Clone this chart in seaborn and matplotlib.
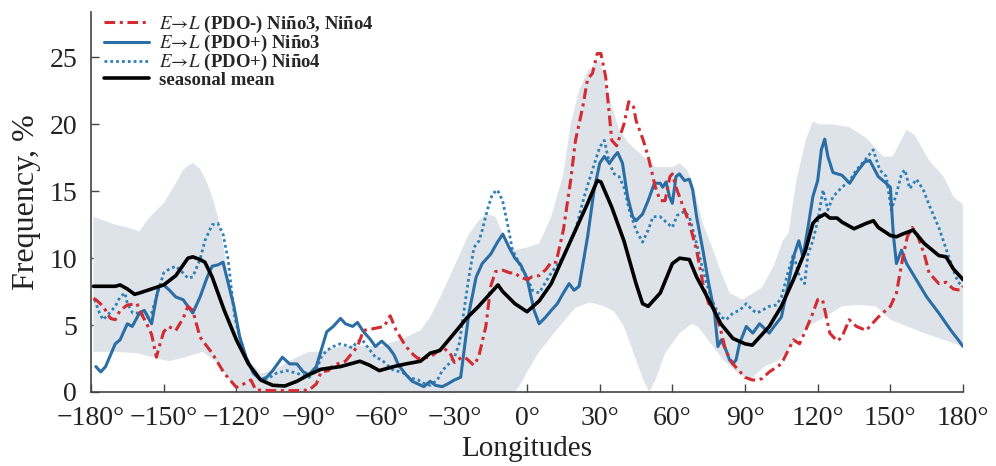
import numpy as np
import pandas as pd
import seaborn as sns
import matplotlib
matplotlib.use('Agg')
import matplotlib.pyplot as plt
from matplotlib.ticker import FixedLocator, FixedFormatter

# E->L (PDO-) Nino3, Nino4
red_lon = [-179, -178, -175, -172, -170, -168, -165, -161, -160, -157, -155, -153, -152, -150, -148, -145,
           -142, -140, -138, -135, -130, -125, -120, -117, -114, -112, -105, -95, -90, -87, -85, -82,
           -80, -75, -70, -67.5, -63, -59, -56.5, -54, -50, -47, -45, -40, -35, -32, -30, -27, -25, -22,
           -20, -17, -15, -13, -10, -7, -5, -3, 0, 2, 5, 8, 10, 12, 15, 18, 20, 23, 25, 27, 29, 30.5,
           32.5, 35, 37, 40, 42, 44, 45, 48, 50, 53, 55, 57, 59, 60, 61.5, 65, 67, 70, 72.6, 75, 77, 78,
           80, 82, 85, 88, 90, 93, 95, 97, 100, 105, 110, 112.5, 115, 118, 120, 122, 125, 128, 130, 133,
           136, 140, 145, 150, 152.5, 155, 157, 159, 161, 164, 166, 170, 173, 176, 179, 180]
red_val = [7.0, 6.9, 6.4, 5.5, 5.4, 6.1, 6.5, 6.6, 6.1, 5.1, 4.3, 2.6, 3.3, 4.5, 4.9, 4.6,
           5.5, 6.4, 6.1, 4.1, 2.9, 1.4, 0.35, 0.6, 0.9, 0.15, 0.1, 0.1, 0.15, 0.6, 1.5, 1.6,
           2.0, 2.3, 3.4, 4.6, 4.75, 4.9, 5.7, 4.6, 3.4, 2.8, 2.5, 2.6, 3.3, 3.0, 2.2, 2.6, 2.5, 2.0,
           2.6, 4.9, 7.9, 9.0, 9.1, 8.9, 8.9, 8.6, 8.4, 8.6, 8.7, 9.2, 9.7, 9.7, 12.1, 15.8, 18.8, 21.3,
           23.4, 23.8, 25.3, 25.3, 23.5, 18.8, 18.4, 20.0, 21.7, 21.3, 20.3, 18.8, 17.6, 15.3, 14.3,
           14.3, 16.1, 16.3, 15.3, 13.6, 12.6, 10.6, 8.1, 6.6, 6.4, 5.9, 4.6, 3.1, 2.1, 1.5, 1.1, 0.9,
           0.9, 1.0, 1.5, 2.1, 3.9, 3.6, 4.6, 5.9, 6.9, 6.9, 4.4, 3.8, 4.1, 5.4, 4.9, 4.6, 5.6, 6.4,
           7.4, 9.9, 11.6, 12.3, 11.8, 10.3, 8.9, 8.1, 8.2, 7.7, 7.6, 7.9]

# E->L (PDO+) Nino3
n3_lon = [-178, -176, -174, -170, -168, -165, -163, -160, -158, -155, -153, -152, -150, -147.6, -145,
          -142, -140, -138, -135, -132, -130, -127.6, -125.5, -124, -121, -118.6, -116, -113, -110,
          -107.5, -105, -103, -101, -98, -95, -92.4, -90, -87, -85, -82.7, -80, -77, -75, -72, -70,
          -67.5, -65, -62.6, -60, -57, -55, -53, -50, -47.4, -45, -42.6, -40, -37.8, -35, -32.3, -30,
          -27.4, -26, -24, -21, -18.5, -15, -12.2, -10, -7.4, -5, -2.6, 0, 2.9, 5, 7.7, 10, 12.5, 15,
          17.4, 19.4, 21.5, 25, 27.7, 30, 31.9, 34, 36, 37.4, 39.4, 41.5, 43.6, 45, 47.7, 50, 52.6, 55,
          56, 57.4, 58.8, 60, 61.5, 62.9, 65, 67, 68.4, 70, 72.6, 75, 77.4, 78.8, 80.2, 82.2, 83.6, 85,
          86.3, 87.7, 90.5, 93.2, 96, 100, 102, 105, 107.7, 110, 112.2, 113.9, 116, 118, 120, 121.5,
          122.9, 124.2, 126.3, 130, 133.2, 136, 139.4, 141.5, 145, 147.6, 150, 151.2, 152.5, 154.6,
          156.7, 160, 165, 170, 175, 178, 180]
n3_val = [1.9, 1.5, 1.9, 3.6, 3.9, 5.1, 4.9, 5.9, 6.1, 5.1, 7.1, 7.9, 8.0, 7.6, 7.1,
          6.9, 6.4, 5.9, 7.1, 8.6, 9.4, 9.5, 9.7, 8.6, 6.4, 4.1, 2.6, 1.4, 0.9,
          1.1, 1.6, 2.1, 2.6, 2.1, 2.1, 1.5, 1.3, 1.9, 3.1, 4.5, 4.9, 5.5, 5.1, 4.9, 5.2,
          4.5, 4.0, 3.4, 3.8, 3.3, 2.8, 2.0, 1.3, 0.8, 0.6, 0.4, 0.8, 0.5, 0.4, 0.65, 0.9,
          1.1, 3.1, 5.9, 8.6, 9.6, 10.3, 11.2, 11.8, 10.8, 10.0, 9.5, 8.5, 6.1, 5.1, 5.6, 6.1, 6.6, 7.4,
          8.1, 7.6, 7.9, 11.6, 15.1, 17.1, 17.6, 17.1, 17.6, 17.9, 17.1, 14.6, 13.1, 12.8, 13.3, 14.3, 15.6, 15.6,
          15.3, 15.7, 14.6, 14.1, 16.1, 16.3, 15.8, 15.9, 15.1, 13.1, 10.6, 8.1, 5.9, 3.4, 3.9, 3.1, 2.4, 2.1,
          2.4, 3.6, 4.9, 4.4, 5.1, 4.4, 4.9, 5.6, 7.9, 10.1, 11.3, 10.1, 12.3, 14.6, 15.8, 18.1,
          18.9, 17.6, 16.4, 16.2, 15.6, 16.4, 17.2, 17.3, 16.1, 15.7, 15.3, 11.8, 9.6, 10.6,
          9.6, 8.6, 7.1, 5.9, 4.6, 3.9, 3.4]

# E->L (PDO+) Nino4
n4_lon = [-178.5, -176.5, -175, -172.4, -170, -168, -166, -165, -162.8, -160, -157, -155, -153, -150,
          -147.6, -145, -142, -140, -138, -135, -133, -130, -127.6, -125.5, -123.4, -122, -120.7,
          -118.6, -116, -113, -110, -107, -103.5, -99.3, -95, -90, -87, -85, -82.7, -80, -77, -75,
          -72.2, -70, -68, -66, -62.6, -60, -57, -55, -51.6, -48.8, -45, -42.6, -40, -37, -35, -32.3,
          -30, -28, -26, -24, -21.9, -19.8, -18.5, -16.4, -14.3, -12.2, -10.1, -8.1, -6, -4, -1.9, 0,
          2.2, 5, 10, 15, 20, 23.6, 27, 30, 31.9, 34, 36, 38, 40, 42.2, 45, 47.7, 50, 52, 55, 57.4, 60,
          62, 65, 67, 70, 72.6, 75, 77.4, 80.2, 82.2, 85, 87.7, 90.5, 93.2, 95, 100, 103, 105, 107.7,
          110, 112.5, 114.6, 116, 118, 120, 122.2, 124.2, 126.3, 130, 133.2, 136, 139.4, 142.9, 145.6,
          148.3, 150.4, 152.5, 154.6, 156, 158, 160.8, 163.6, 166.4, 170, 173.2, 176, 178, 180]
n4_val = [6.9, 5.9, 5.4, 5.9, 6.4, 7.1, 7.4, 6.6, 5.9, 5.9, 5.6, 5.9, 7.1, 8.9,
          9.2, 9.4, 8.9, 8.5, 8.6, 9.9, 11.3, 12.5, 12.6, 11.8, 9.9, 7.6, 5.6,
          4.1, 2.6, 1.5, 0.9, 1.0, 1.4, 1.6, 1.4, 1.1, 1.6, 2.6, 3.1, 3.4, 3.6, 3.5,
          3.3, 3.8, 3.9, 3.4, 2.6, 2.4, 1.9, 1.6, 1.5, 1.1, 0.9, 0.65, 0.5, 0.9, 1.6, 2.1,
          2.6, 3.6, 6.1, 8.6, 10.8, 11.3, 12.1, 13.6, 14.8, 15.1, 14.3, 12.6, 10.6, 9.9, 9.1, 8.6,
          7.6, 7.4, 8.9, 10.1, 12.1, 14.6, 16.6, 18.3, 18.8, 17.1, 16.3, 16.1, 15.3, 13.6, 12.1, 11.2, 12.1, 13.1, 13.1, 12.7, 12.3,
          13.2, 13.5, 13.1, 11.1, 9.1, 7.6, 6.4, 5.6, 5.4, 5.9, 6.1, 6.6, 6.1, 5.9, 6.4, 6.5, 7.1, 8.9,
          10.3, 8.6, 8.1, 10.3, 11.3, 12.8, 15.1, 13.6, 14.6, 15.3, 15.8, 16.6, 17.3, 18.1, 16.6,
          16.1, 13.6, 14.8, 16.3, 16.6, 15.2, 15.9, 15.1, 13.8, 12.3, 10.6, 9.1, 8.2, 7.9]

# seasonal mean
mean_lon = [-179, -175, -170, -168, -165, -162, -160, -155, -150, -145, -140, -138, -135, -133, -130,
            -125, -120, -115, -110, -105, -100, -95, -90, -85, -77, -69, -65, -61, -55, -50, -44, -40,
            -36, -30, -25, -20, -15, -12, -10, -5, 0, 5, 10, 15, 20, 25, 29, 30.5, 35, 40, 45, 47.7, 50,
            55, 60, 63, 67, 70, 75, 80, 85, 90, 93, 95, 100, 105, 110, 115, 118, 120, 123, 125, 128, 130,
            135, 140, 143, 145, 150, 152.5, 155, 159.4, 164, 170, 173, 176, 180]
mean_val = [7.9, 7.9, 7.9, 8.0, 7.7, 7.3, 7.4, 7.7, 8.0, 8.7, 10.0, 10.1, 9.9, 9.7, 8.6,
            6.1, 3.9, 2.1, 0.9, 0.5, 0.45, 0.8, 1.3, 1.7, 1.9, 2.3, 2.0, 1.6, 1.9, 2.1, 2.3, 2.9,
            3.1, 4.4, 5.5, 6.4, 7.4, 8.0, 7.5, 6.6, 6.0, 6.8, 8.1, 10.1, 12.1, 14.1, 15.8, 15.7, 13.8, 11.3, 8.1, 6.6, 6.4,
            7.4, 9.6, 10.0, 9.9, 8.6, 6.9, 5.1, 4.0, 3.6, 3.5, 3.9, 4.9, 6.4, 8.4, 10.6, 12.6, 13.0, 13.3, 13.0, 13.0, 12.7,
            12.2, 12.6, 12.8, 12.3, 11.7, 11.6, 11.8, 12.1, 11.1, 10.2, 10.1, 9.2, 8.4]

# spread band (upper / lower edges)
band_up_lon = [-179, -170, -165, -160, -157, -155, -150, -145, -142, -140, -138, -135, -132, -130, -127.6,
               -125, -123, -120, -115, -110, -105, -100, -95, -90, -85, -80, -72, -61, -51, -44, -40, -35,
               -30, -27, -24, -20, -17, -13, -10, -7, -5, 0, 5, 10, 15, 18, 21.5, 25, 30, 34, 38, 42, 48,
               53, 60, 63, 66, 68.4, 72.6, 76, 80, 83.6, 89, 97, 102, 105.6, 108, 111, 115, 118, 121, 126,
               133, 140, 147, 151, 156.7, 160, 166, 172, 176, 180]
band_up_val = [13.1, 12.5, 12.3, 12.0, 12.8, 13.2, 14.1, 15.6, 16.6, 16.9, 17.1, 16.7, 15.6, 14.6, 13.1,
               10.6, 7.6, 4.9, 2.4, 1.4, 1.6, 2.1, 2.6, 3.0, 3.0, 3.3, 3.5, 3.4, 4.0, 4.6, 5.6, 7.4,
               9.4, 10.6, 11.8, 12.8, 13.3, 13.1, 11.8, 10.8, 10.6, 10.8, 11.1, 13.1, 16.3, 20.0, 22.5, 24.0, 24.8, 22.0, 19.6, 18.6, 17.6,
               16.8, 16.8, 17.1, 16.6, 15.6, 12.6, 11.0, 9.0, 7.4, 6.9, 7.8, 9.5, 11.3, 11.9, 15.6, 18.8, 20.2, 20.0, 20.0,
               19.8, 19.0, 17.6, 17.6, 19.6, 19.2, 17.3, 16.1, 14.6, 14.0]
band_lo_lon = [-179, -170, -161, -148, -141, -134, -127, -123, -118.6, -110, -90, -60, -30, -5, -3, 0, 5,
               12, 20, 26, 32, 36, 40, 44, 48, 50.5, 53, 57, 63, 68, 70.5, 76, 81, 87, 92, 98, 104, 109,
               116, 123, 130, 137, 144, 150, 157, 164, 172, 180]
band_lo_val = [3.0, 3.0, 2.9, 2.3, 2.6, 3.0, 2.1, 0.9, 0.0, 0.0, 0.0, 0.0, 0.0, 0.0, 0.5, 1.5, 3.0,
               4.6, 6.3, 6.7, 6.4, 6.0, 4.9, 2.9, 0.9, 0.0, 0.9, 2.9, 4.4, 5.1, 4.9, 3.6, 2.4, 1.4, 0.9, 1.9, 2.4, 3.4,
               4.9, 5.6, 6.4, 6.5, 6.4, 5.4, 4.9, 4.4, 3.9, 3.4]

xticks = [-180, -150, -120, -90, -60, -30, 0, 30, 60, 90, 120, 150, 180]
xtick_labels = ['\u2212180°', '\u2212150°', '\u2212120°', '\u221290°', '\u221260°', '\u221230°',
                '0°', '30°', '60°', '90°', '120°', '150°', '180°']
yticks = [0, 5, 10, 15, 20, 25]

labels = [r'$E\!\rightarrow\!L$ (PDO-) Niño3, Niño4',
          r'$E\!\rightarrow\!L$ (PDO+) Niño3',
          r'$E\!\rightarrow\!L$ (PDO+) Niño4',
          'seasonal mean']

sns.set_style('ticks')
plt.rcParams['font.family'] = ['Liberation Serif', 'DejaVu Serif']
plt.rcParams['mathtext.fontset'] = 'stix'

fig = plt.figure(figsize=(9.96, 4.66), dpi=100)
ax = fig.add_axes([0.0914, 0.1588, 0.8755, 0.8155])

# 灰色区间
ax.fill(band_up_lon + band_lo_lon[::-1], band_up_val + band_lo_val[::-1],
        color='#dde3e8', lw=0, zorder=1)

df_red = pd.DataFrame({'lon': red_lon, 'val': red_val})
df_n3 = pd.DataFrame({'lon': n3_lon, 'val': n3_val})
df_n4 = pd.DataFrame({'lon': n4_lon, 'val': n4_val})
df_mean = pd.DataFrame({'lon': mean_lon, 'val': mean_val})

sns.lineplot(data=df_n4, x='lon', y='val', ax=ax, sort=False, estimator=None,
             color='#2f80b8', lw=2.0, linestyle=(0, (1, 1.1)), zorder=3)
sns.lineplot(data=df_n3, x='lon', y='val', ax=ax, sort=False, estimator=None,
             color='#2a6ea5', lw=2.2, zorder=4)
sns.lineplot(data=df_red, x='lon', y='val', ax=ax, sort=False, estimator=None,
             color='#d42a32', lw=2.2, linestyle=(0, (3.5, 1.5, 1, 1.5)), zorder=5)
sns.lineplot(data=df_mean, x='lon', y='val', ax=ax, sort=False, estimator=None,
             color='black', lw=2.6, zorder=6)

lines = ax.get_lines()
handles = [lines[2], lines[1], lines[0], lines[3]]
leg = ax.legend(handles, labels, loc='upper left', bbox_to_anchor=(0.013, 1.0),
                frameon=False, handlelength=2.4, handletextpad=0.5,
                labelspacing=-0.1, borderaxespad=0, borderpad=0.1,
                prop={'family': ['Liberation Serif', 'DejaVu Serif'], 'weight': 'bold', 'size': 13.5})

ax.set_xlim(-180, 180)
ax.set_ylim(0, 28.4)
ax.xaxis.set_major_locator(FixedLocator(xticks))
ax.xaxis.set_major_formatter(FixedFormatter(xtick_labels))
ax.set_yticks(yticks)
ax.tick_params(axis='both', direction='in', length=6, width=1, color='#444444',
               labelsize=20, labelcolor='#222222')
ax.tick_params(axis='x', pad=10)
ax.tick_params(axis='y', pad=10)

for side in ['top', 'right']:
    ax.spines[side].set_visible(False)
for side in ['left', 'bottom']:
    ax.spines[side].set_color('#444444')
    ax.spines[side].set_linewidth(1.2)

ax.set_xlabel('Longitudes', fontsize=21, color='#222222')
ax.set_ylabel('Frequency, %', fontsize=23, color='#222222')
ax.xaxis.set_label_coords(0.5, -0.116)
ax.yaxis.set_label_coords(-0.057, 0.5)

plt.savefig('out.png', dpi=100)
